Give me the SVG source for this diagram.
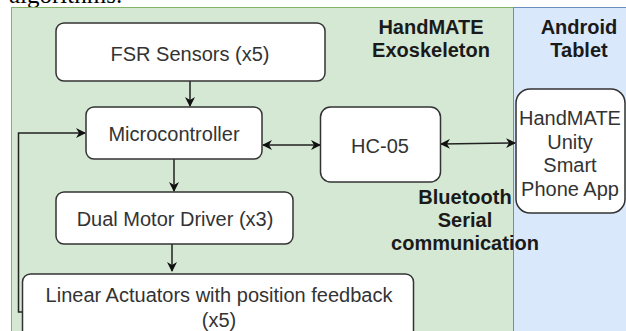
<svg xmlns="http://www.w3.org/2000/svg" width="626" height="331" viewBox="0 0 626 331">
<style>
.node rect{fill:#ffffff;stroke:#333333;stroke-width:1.5}
.t{font-family:"Liberation Sans",Arial,sans-serif;font-size:20px;fill:#333333;text-anchor:middle;dominant-baseline:central}
.b{font-family:"Liberation Sans",Arial,sans-serif;font-size:20px;font-weight:bold;fill:#1a1a1a;text-anchor:middle;dominant-baseline:central}
.c{fill:none;stroke:#222222;stroke-width:1.5}
</style>
<defs>
<marker id="ah" viewBox="0 0 10 10" refX="9" refY="5" markerWidth="10" markerHeight="10" markerUnits="userSpaceOnUse" orient="auto-start-reverse">
<path d="M0,0 L10,5 L0,10 L3,5 Z" fill="#111111"/>
</marker>
</defs>
<rect x="0" y="0" width="626" height="331" fill="#ffffff"/>
<text x="9" y="3" font-family="Liberation Serif,'Times New Roman',serif" font-size="25" fill="#000000">algorithms.</text>
<g id="exoskeleton-region">
<rect x="11.5" y="7.5" width="502" height="330" fill="#d5e8d4" stroke="#82b366" stroke-width="1"/>
</g>
<g id="tablet-region">
<rect x="513.5" y="7.5" width="120" height="330" fill="#dae8fc" stroke="#6c8ebf" stroke-width="1"/>
</g>
<g id="connectors">
<line class="c" x1="190" y1="81" x2="190" y2="106" marker-end="url(#ah)"/>
<line class="c" x1="174" y1="159" x2="174" y2="191" marker-end="url(#ah)"/>
<line class="c" x1="172" y1="244" x2="172" y2="271" marker-end="url(#ah)"/>
<line class="c" x1="263" y1="145" x2="320" y2="145" marker-start="url(#ah)" marker-end="url(#ah)"/>
<line class="c" x1="441" y1="144" x2="515" y2="143" marker-start="url(#ah)" marker-end="url(#ah)"/>
<path class="c" d="M23,312 H18.5 V133 H85" marker-end="url(#ah)"/>
</g>
<g id="fsr" class="node">
<rect x="56" y="23" width="269" height="58" rx="8"/>
<text class="t" x="190" y="54">FSR Sensors (x5)</text>
</g>
<g id="microcontroller" class="node">
<rect x="86" y="107" width="176" height="52" rx="8"/>
<text class="t" x="174" y="134">Microcontroller</text>
</g>
<g id="hc05" class="node">
<rect x="320.5" y="107" width="120" height="75" rx="10"/>
<text class="t" x="380" y="146">HC-05</text>
</g>
<g id="app" class="node">
<rect x="516" y="89" width="109" height="124" rx="14"/>
<text class="t" x="570" y="118">HandMATE</text>
<text class="t" x="570" y="141.5">Unity</text>
<text class="t" x="570" y="165">Smart</text>
<text class="t" x="570" y="188.5">Phone App</text>
</g>
<g id="driver" class="node">
<rect x="56" y="192" width="237" height="52" rx="8"/>
<text class="t" x="175" y="219">Dual Motor Driver (x3)</text>
</g>
<g id="actuators" class="node">
<rect x="22.5" y="274" width="391" height="70" rx="8"/>
<text class="t" x="219" y="295">Linear Actuators with position feedback</text>
<text class="t" x="219" y="320">(x5)</text>
</g>
<g id="labels">
<text class="b" x="431" y="27">HandMATE</text>
<text class="b" x="431" y="50">Exoskeleton</text>
<text class="b" x="579" y="27">Android</text>
<text class="b" x="579" y="50">Tablet</text>
<text class="b" x="465" y="197">Bluetooth</text>
<text class="b" x="465" y="220">Serial</text>
<text class="b" x="465" y="243">communication</text>
</g>
</svg>
